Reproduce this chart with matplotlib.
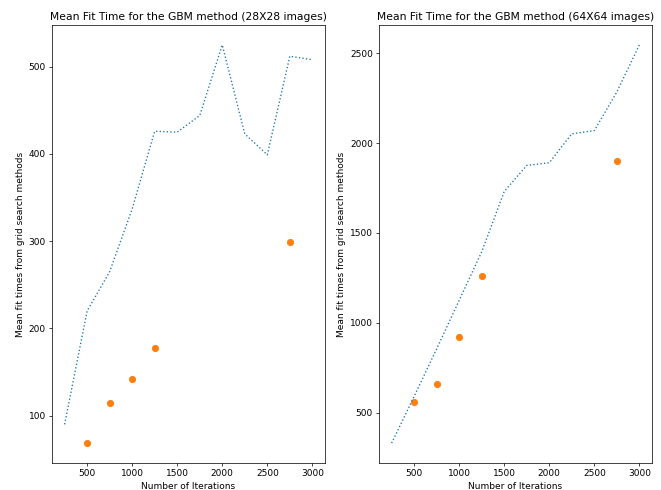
import numpy as np
import matplotlib
matplotlib.use('Agg')
import matplotlib.pyplot as plt

iterations = [250, 500, 750, 1000, 1250, 1500, 1750, 2000, 2250, 2500, 2750, 3000]
fit_28 = [90, 220, 265, 337, 426, 425, 444, 525, 423, 399, 512, 508]
fit_64 = [330, 590, 855, 1125, 1395, 1731, 1876, 1891, 2052, 2070, 2285, 2547]

best_iter = [500, 750, 1000, 1250, 2750]
best_28 = [68.5, 114.5, 142, 177.7, 299]
best_64 = [557, 660, 919, 1262, 1902]

# draw at a bigger size and a lower dpi, so the default font sizes shrink
scale = 0.645
fig, (ax1, ax2) = plt.subplots(1, 2, figsize=(6.61 / scale, 4.9 / scale), dpi=100 * scale)

ax1.plot(iterations, fit_28, linestyle=':')
ax1.scatter(best_iter, best_28, color='C1', s=48)
ax1.set_title('Mean Fit Time for the GBM method (28X28 images)')
ax1.set_xlabel('Number of Iterations')
ax1.set_ylabel('Mean fit times from grid search methods')

ax2.plot(iterations, fit_64, linestyle=':')
ax2.scatter(best_iter, best_64, color='C1', s=48)
ax2.set_title('Mean Fit Time for the GBM method (64X64 images)')
ax2.set_xlabel('Number of Iterations')
ax2.set_ylabel('Mean fit times from grid search methods')

fig.subplots_adjust(left=0.079, right=0.986, bottom=0.055, top=0.949, wspace=0.2)
fig.savefig('out.png')
